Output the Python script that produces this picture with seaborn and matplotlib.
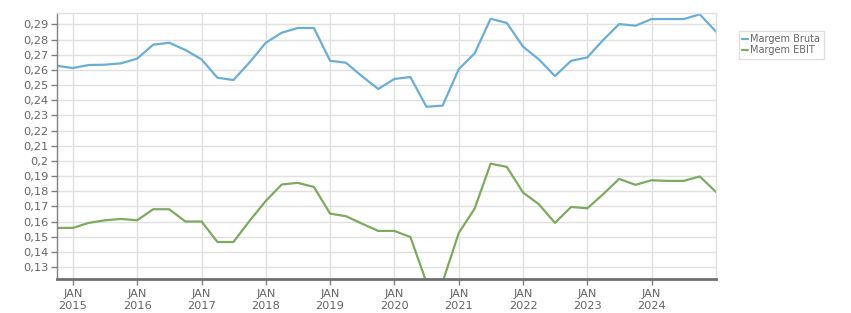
import matplotlib
matplotlib.use("Agg")
import matplotlib.pyplot as plt
import seaborn as sns
import pandas as pd

margem_bruta = [0.2627, 0.2612, 0.2632, 0.2634, 0.2643, 0.2674, 0.2766, 0.2779,
                0.2731, 0.2669, 0.2548, 0.2533, 0.2650, 0.2779, 0.2845, 0.2876,
                0.2876, 0.2660, 0.2647, 0.2558, 0.2474, 0.2540, 0.2553, 0.2357,
                0.2364, 0.2605, 0.2709, 0.2937, 0.2909, 0.2753, 0.2669, 0.2559,
                0.2660, 0.2682, 0.2797, 0.2902, 0.2891, 0.2935, 0.2935, 0.2935,
                0.2966, 0.2852]
margem_ebit = [0.1558, 0.1558, 0.1591, 0.1608, 0.1617, 0.1608, 0.1681, 0.1681,
               0.1600, 0.1600, 0.1465, 0.1465, 0.1605, 0.1736, 0.1844, 0.1855,
               0.1828, 0.1652, 0.1635, 0.1586, 0.1538, 0.1538, 0.1498, 0.1200,
               0.1200, 0.1525, 0.1685, 0.1982, 0.1960, 0.1791, 0.1714, 0.1591,
               0.1696, 0.1687, 0.1780, 0.1881, 0.1842, 0.1872, 0.1868, 0.1868,
               0.1897, 0.1795]
dates = pd.date_range("2014-10-01", periods=len(margem_bruta), freq="QS")
series_names = ["Margem Bruta", "Margem EBIT"]
colors = ["#6aaed6", "#7daa5f"]
y_ticks = [0.13, 0.14, 0.15, 0.16, 0.17, 0.18, 0.19, 0.20, 0.21, 0.22, 0.23,
           0.24, 0.25, 0.26, 0.27, 0.28, 0.29]
years = list(range(2015, 2025))

df = pd.DataFrame({"date": list(dates) * 2,
                   "value": margem_bruta + margem_ebit,
                   "serie": [series_names[0]] * len(dates) + [series_names[1]] * len(dates)})

sns.set_style("white")
plt.rcParams["font.family"] = ["DejaVu Sans"]

fig = plt.figure(figsize=(8.51, 3.13), dpi=100)
ax = fig.add_axes([56.7 / 851, 1 - 279.3 / 313, (716 - 56.7) / 851, (279.3 - 13.3) / 313])

sns.lineplot(data=df, x="date", y="value", hue="serie", palette=colors,
             hue_order=series_names, ax=ax, linewidth=1.6, legend=True)

ax.set_xlim(dates[0], dates[-1])
ax.set_ylim(0.1219, 0.2973)
ax.set_yticks(y_ticks)
ax.set_yticklabels([("%g" % v).replace(".", ",") for v in y_ticks])
xt = [pd.Timestamp(f"{y}-01-01") for y in years]
ax.set_xticks(xt)
ax.set_xticklabels([f"JAN\n{y}" for y in years])

ax.grid(True, color="#e0e0e0", linewidth=1)
ax.set_axisbelow(True)
for s in ["top", "right"]:
    ax.spines[s].set_color("#e0e0e0")
    ax.spines[s].set_linewidth(1)
ax.spines["left"].set_color("#808080")
ax.spines["left"].set_linewidth(1)
ax.spines["bottom"].set_color("#707070")
ax.spines["bottom"].set_linewidth(2)
ax.tick_params(axis="y", colors="#808080", labelcolor="#666666", labelsize=8.2,
               length=4, width=1, direction="out", left=True, pad=2)
ax.tick_params(axis="x", colors="#808080", labelcolor="#666666", labelsize=8.2,
               length=4, width=1, direction="out", bottom=True, pad=3)
ax.set_xlabel("")
ax.set_ylabel("")

leg = ax.legend(loc="upper left", bbox_to_anchor=(739 / 851, 1 - 31 / 313),
                bbox_transform=fig.transFigure, fontsize=7.0, frameon=True,
                fancybox=False, handlelength=0.6, handletextpad=0.2,
                borderpad=0.35, labelspacing=0.1, borderaxespad=0)
leg.get_frame().set_edgecolor("#d8d8d8")
leg.get_frame().set_linewidth(1)
for t in leg.get_texts():
    t.set_color("#666666")

fig.savefig("out.png", dpi=100)
